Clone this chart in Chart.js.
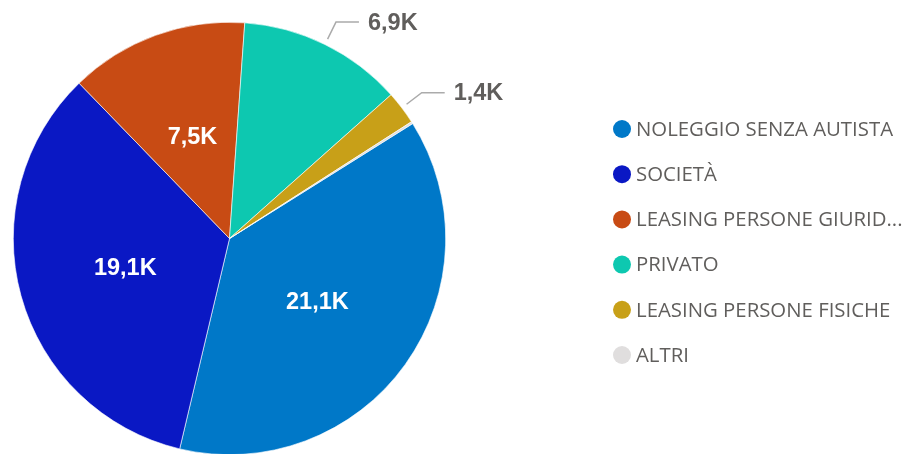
<!DOCTYPE html>
<html>
<head>
<meta charset="utf-8">
<script src="https://cdn.jsdelivr.net/npm/chart.js@4/dist/chart.umd.min.js"></script>
<style>
html,body{margin:0;padding:0;background:#fff;overflow:hidden;width:912px;height:454px;}
canvas{display:block;}
</style>
</head>
<body>
<canvas id="c" width="912" height="460"></canvas>
<script>
const categories = ["NOLEGGIO SENZA AUTISTA","SOCIETÀ","LEASING PERSONE GIURIDICHE","PRIVATO","LEASING PERSONE FISICHE","ALTRI"];
const values = [21100, 19100, 7500, 6900, 1400, 90];
const colors = ["#0078C8","#0A18C4","#C84B14","#0DC8B0","#C8A018","#E0DEDE"];

function fmtK(v){ return (v/1000).toFixed(1).replace('.', ',') + 'K'; }

const labelPlugin = {
  id: 'labels',
  afterDraw(chart){
    const ctx = chart.ctx;
    const meta = chart.getDatasetMeta(0);
    const total = values.reduce((a,b)=>a+b,0);
    ctx.save();
    ctx.font = 'bold 23.5px "Liberation Sans", Arial, sans-serif';
    ctx.textBaseline = 'middle';
    meta.data.forEach((arc, i) => {
      const frac = values[i]/total;
      if (frac < 0.01) return;
      const p = arc.getProps(['x','y','startAngle','endAngle','outerRadius'], true);
      const mid = (p.startAngle + p.endAngle)/2;
      const txt = fmtK(values[i]);
      if (frac >= 0.13) {
        const r = p.outerRadius*0.5;
        ctx.fillStyle = '#FFFFFF';
        ctx.textAlign = 'center';
        ctx.fillText(txt, p.x + Math.cos(mid)*r, p.y + Math.sin(mid)*r + 1);
      } else {
        const r1 = p.outerRadius + 6, r2 = p.outerRadius + 25;
        const x1 = p.x + Math.cos(mid)*r1, y1 = p.y + Math.sin(mid)*r1;
        const x2 = p.x + Math.cos(mid)*r2, y2 = p.y + Math.sin(mid)*r2;
        const x3 = x2 + 23;
        ctx.strokeStyle = '#ABABAB';
        ctx.lineWidth = 1.5;
        ctx.beginPath();
        ctx.moveTo(x1,y1); ctx.lineTo(x2,y2); ctx.lineTo(x3,y2);
        ctx.stroke();
        ctx.fillStyle = '#605E5C';
        ctx.textAlign = 'left';
        ctx.fillText(txt, x3 + 9, y2 + 1);
      }
    });
    ctx.restore();
  }
};

const legendPlugin = {
  id: 'customLegend',
  afterDraw(chart){
    const ctx = chart.ctx;
    ctx.save();
    const fam = '"Open Sans", "Noto Sans", sans-serif';
    ctx.font = '100px ' + fam;
    const w100 = ctx.measureText(categories[0]).width;
    const size = 100 * 257 / w100;
    ctx.font = size.toFixed(2) + 'px ' + fam;
    ctx.textBaseline = 'middle';
    ctx.textAlign = 'left';
    const maxW = 272;
    categories.forEach((name, i) => {
      const y = 129 + i*45.2;
      ctx.fillStyle = colors[i];
      ctx.beginPath();
      ctx.arc(622, y, 9, 0, Math.PI*2);
      ctx.fill();
      let t = name;
      if (ctx.measureText(t).width > maxW) {
        while (t.length > 1 && ctx.measureText(t + '...').width > maxW) t = t.slice(0,-1);
        t = t + '...';
      }
      ctx.fillStyle = '#605E5C';
      ctx.fillText(t, 636, y + 1);
    });
    ctx.restore();
  }
};

new Chart(document.getElementById('c'), {
  type: 'pie',
  data: {
    labels: categories,
    datasets: [{
      data: values,
      backgroundColor: colors,
      borderColor: '#FFFFFF',
      borderWidth: 0.6
    }]
  },
  options: {
    responsive: false,
    animation: false,
    rotation: 57.9,
    layout: { padding: { left: 13, top: 22, right: 466, bottom: 5 } },
    plugins: { legend: { display: false }, tooltip: { enabled: false } }
  },
  plugins: [labelPlugin, legendPlugin]
});
</script>
</body>
</html>
